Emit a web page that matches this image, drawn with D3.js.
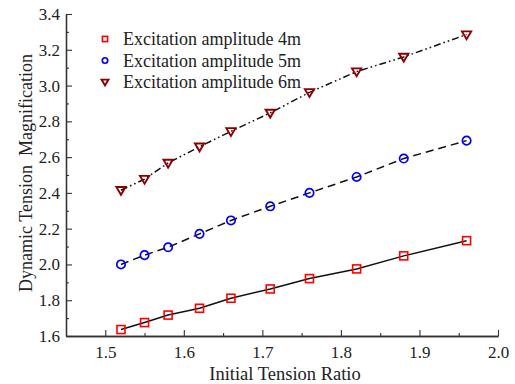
<!DOCTYPE html>
<html>
<head>
<meta charset="utf-8">
<script src="https://cdn.jsdelivr.net/npm/d3@7"></script>
<style>
  html, body { margin: 0; padding: 0; background: #fff; }
  svg { display: block; font-family: "Liberation Serif", "Times New Roman", Times, serif; }
</style>
</head>
<body>
<svg id="chart" width="515" height="384"></svg>
<script>
// Initial tension ratio (x) and dynamic tension magnification for each excitation amplitude
const tensionRatio = [1.52, 1.55, 1.58, 1.62, 1.66, 1.71, 1.76, 1.82, 1.88, 1.96];
const amp4m = [1.636, 1.675, 1.717, 1.755, 1.811, 1.863, 1.921, 1.975, 2.048, 2.133];
const amp5m = [2.000, 2.052, 2.096, 2.171, 2.246, 2.325, 2.400, 2.489, 2.592, 2.692];
const amp6m = [2.415, 2.477, 2.567, 2.658, 2.744, 2.847, 2.962, 3.078, 3.160, 3.285];
const seriesNames = ["Excitation amplitude 4m", "Excitation amplitude 5m", "Excitation amplitude 6m"];
const xTicks = [1.5, 1.6, 1.7, 1.8, 1.9, 2.0];
const yTicks = [1.6, 1.8, 2.0, 2.2, 2.4, 2.6, 2.8, 3.0, 3.2, 3.4];

const FONT = "'Liberation Serif', 'Times New Roman', Times, serif";
const svg = d3.select("#chart");
const plot = { left: 66, right: 498, top: 14, bottom: 336 };

const x = d3.scaleLinear().domain([1.45, 2.0]).range([plot.left, plot.right]);
const y = d3.scaleLinear().domain([1.6, 3.4]).range([plot.bottom, plot.top]);

const series = [
  { name: seriesNames[0], values: amp4m, color: "#ff0000", shape: "square", dash: null },
  { name: seriesNames[1], values: amp5m, color: "#0000ff", shape: "circle", dash: "8,5" },
  { name: seriesNames[2], values: amp6m, color: "#8b0000", shape: "triangle", dash: "7,3,1.6,3,1.6,3" }
];

// Axes: ticks point inward, minor ticks between labelled ones
const xAxis = d3.axisBottom(x).tickValues(xTicks).tickFormat(d3.format(".1f")).tickSizeInner(-6).tickSizeOuter(0).tickPadding(10);
const xMinor = d3.axisBottom(x).tickValues(d3.range(1.55, 2.0, 0.1)).tickFormat("").tickSizeInner(-3).tickSizeOuter(0);
const yAxis = d3.axisLeft(y).tickValues(yTicks).tickFormat(d3.format(".1f")).tickSizeInner(-6).tickSizeOuter(0).tickPadding(6);
const yMinor = d3.axisLeft(y).tickValues(d3.range(1.7, 3.4, 0.2)).tickFormat("").tickSizeInner(-3).tickSizeOuter(0);

function styleAxis(g) {
  g.attr("font-family", FONT);
  g.select(".domain").attr("stroke", "#333").attr("stroke-width", 1.3);
  g.selectAll(".tick line").attr("stroke", "#333").attr("stroke-width", 1.1);
  g.selectAll(".tick text").attr("fill", "#222").attr("font-size", 17).attr("font-family", FONT);
}

svg.append("g").attr("transform", `translate(0,${plot.bottom})`).call(xMinor).call(styleAxis);
svg.append("g").attr("transform", `translate(0,${plot.bottom})`).call(xAxis).call(styleAxis);
svg.append("g").attr("transform", `translate(${plot.left},0)`).call(yMinor).call(styleAxis);
svg.append("g").attr("transform", `translate(${plot.left},0)`).call(yAxis).call(styleAxis);

// Axis titles
svg.append("text")
  .attr("x", 285).attr("y", 380)
  .attr("text-anchor", "middle")
  .attr("font-family", FONT).attr("font-size", 18.5).attr("fill", "#222")
  .text("Initial Tension Ratio");

svg.append("text")
  .attr("transform", `translate(32,173) rotate(-90)`)
  .attr("text-anchor", "middle")
  .attr("font-family", FONT).attr("font-size", 18).attr("fill", "#222")
  .attr("xml:space", "preserve")
  .style("white-space", "pre")
  .text("Dynamic Tension  Magnification");

// Connecting lines
const line = d3.line().x((d, i) => x(tensionRatio[i])).y(d => y(d));
series.forEach(s => {
  svg.append("path")
    .datum(s.values)
    .attr("d", line)
    .attr("fill", "none")
    .attr("stroke", "#111")
    .attr("stroke-width", 1.5)
    .attr("stroke-dasharray", s.dash);
});

// Marker drawing
function drawMarker(g, shape, color, k) {
  if (shape === "square") {
    g.append("rect").attr("x", -4 * k).attr("y", -4 * k).attr("width", 8 * k).attr("height", 8 * k)
      .attr("fill", "none").attr("stroke", color).attr("stroke-width", 1.6);
  } else if (shape === "circle") {
    g.append("circle").attr("r", 4.2 * k)
      .attr("fill", "none").attr("stroke", color).attr("stroke-width", 1.7);
  } else {
    g.append("path").attr("d", `M${-4.6 * k},${-3.2 * k}L${4.6 * k},${-3.2 * k}L0,${4.6 * k}Z`)
      .attr("fill", "none").attr("stroke", color).attr("stroke-width", 1.9).attr("stroke-linejoin", "miter");
  }
}

series.forEach(s => {
  svg.append("g").selectAll("g")
    .data(s.values)
    .join("g")
    .attr("transform", (d, i) => `translate(${x(tensionRatio[i])},${y(d)})`)
    .each(function () { drawMarker(d3.select(this), s.shape, s.color, 1); });
});

// Legend
const legend = svg.append("g");
series.forEach((s, i) => {
  const row = legend.append("g").attr("transform", `translate(105,${39 + i * 21.5})`);
  drawMarker(row.append("g"), s.shape, s.color, i === 2 ? 0.75 : 0.65);
  row.append("text")
    .attr("x", 18).attr("y", 6)
    .attr("font-family", FONT).attr("font-size", 18).attr("fill", "#222")
    .text(s.name);
});
</script>
</body>
</html>
